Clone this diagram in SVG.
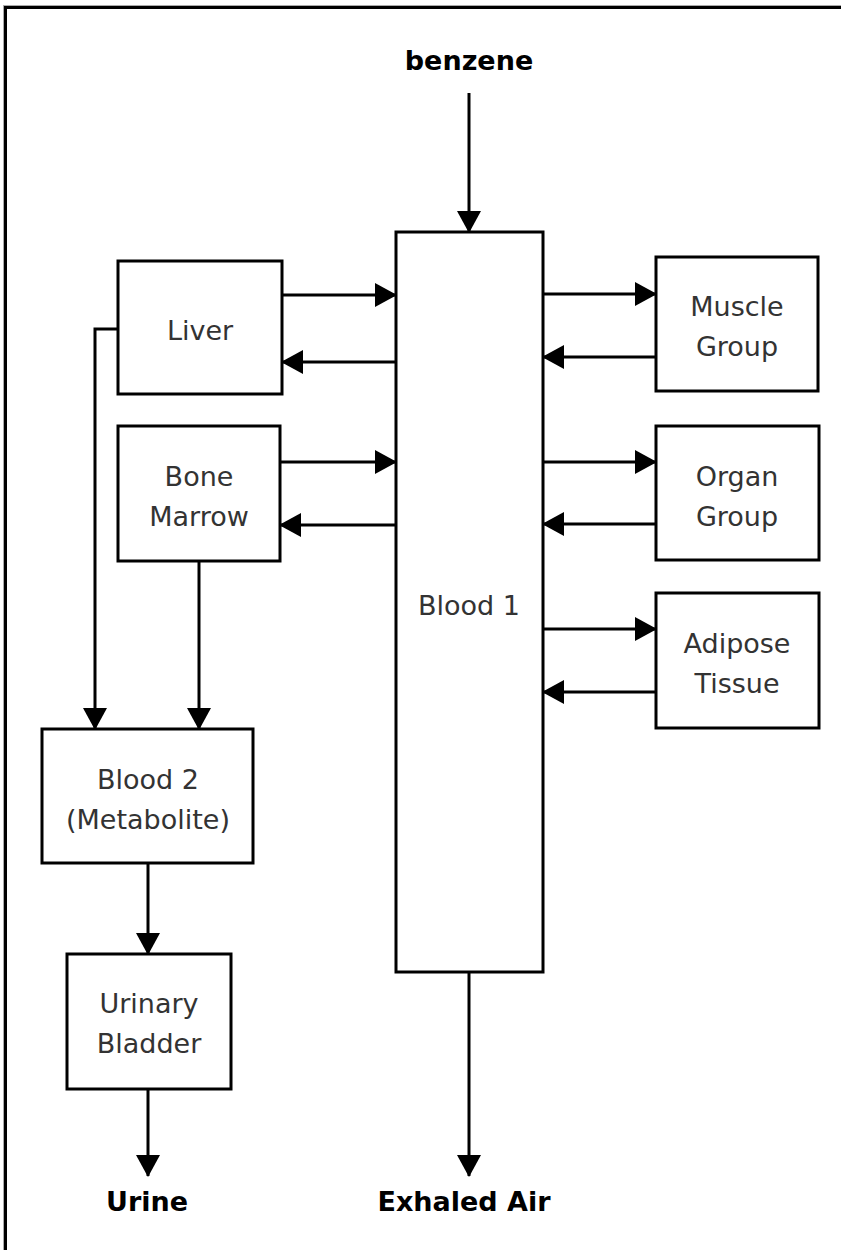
<svg xmlns="http://www.w3.org/2000/svg" width="841" height="1250" viewBox="0 0 841 1250">
<style>
.box{fill:#fff;stroke:#000;stroke-width:3}
.lbl{font-family:"DejaVu Sans",Verdana,sans-serif;font-size:27px;fill:#333;text-anchor:middle}
.bold{font-family:"DejaVu Sans",Verdana,sans-serif;font-size:27px;font-weight:bold;fill:#000;text-anchor:middle}
.con{fill:none;stroke:#000;stroke-width:3;marker-end:url(#ah)}
.plain{fill:none;stroke:#000;stroke-width:3}
</style>
<defs>
<marker id="ah" markerUnits="userSpaceOnUse" markerWidth="24" markerHeight="24" viewBox="0 0 22 24" refX="21" refY="12" orient="auto">
<path d="M0,0 L22,12 L0,24 Z" fill="#000"/>
</marker>
</defs>
<rect x="0" y="0" width="841" height="1250" fill="#fff"/>
<rect x="5.5" y="7.5" width="860" height="1270" fill="none" stroke="#000" stroke-width="3"/>
<rect x="3.5" y="5.5" width="864" height="1274" fill="none" stroke="#aaa" stroke-width="1"/>

<g id="connectors">
<path class="con" d="M469,93 V232"/>
<path class="con" d="M282,295 H396"/>
<path class="con" d="M396,362 H282"/>
<path class="con" d="M280,462 H396"/>
<path class="con" d="M396,525 H280"/>
<path class="con" d="M543,294 H656"/>
<path class="con" d="M656,357 H543"/>
<path class="con" d="M543,462 H656"/>
<path class="con" d="M656,524 H543"/>
<path class="con" d="M543,629 H656"/>
<path class="con" d="M656,692 H543"/>
<path class="con" d="M118,329 H95 V729"/>
<path class="con" d="M199,561 V729"/>
<path class="con" d="M148,863 V954"/>
<path class="con" d="M148,1089 V1176"/>
<path class="con" d="M469,972 V1176"/>
</g>

<g id="benzene"><text class="bold" x="469" y="70">benzene</text></g>
<g id="blood1"><rect class="box" x="396" y="232" width="147" height="740"/><text class="lbl" x="469" y="615">Blood 1</text></g>
<g id="liver"><rect class="box" x="118" y="261" width="164" height="133"/><text class="lbl" x="200" y="340">Liver</text></g>
<g id="bonemarrow"><rect class="box" x="118" y="426" width="162" height="135"/><text class="lbl" x="199" y="486">Bone</text><text class="lbl" x="199" y="526">Marrow</text></g>
<g id="muscle"><rect class="box" x="656" y="257" width="162" height="134"/><text class="lbl" x="737" y="316">Muscle</text><text class="lbl" x="737" y="356">Group</text></g>
<g id="organ"><rect class="box" x="656" y="426" width="163" height="134"/><text class="lbl" x="737" y="486">Organ</text><text class="lbl" x="737" y="526">Group</text></g>
<g id="adipose"><rect class="box" x="656" y="593" width="163" height="135"/><text class="lbl" x="737" y="653">Adipose</text><text class="lbl" x="737" y="693">Tissue</text></g>
<g id="blood2"><rect class="box" x="42" y="729" width="211" height="134"/><text class="lbl" x="148" y="789">Blood 2</text><text class="lbl" x="148" y="829">(Metabolite)</text></g>
<g id="bladder"><rect class="box" x="67" y="954" width="164" height="135"/><text class="lbl" x="149" y="1013">Urinary</text><text class="lbl" x="149" y="1053">Bladder</text></g>
<g id="urine"><text class="bold" x="147" y="1211">Urine</text></g>
<g id="exhaled"><text class="bold" x="464" y="1211">Exhaled Air</text></g>
</svg>
